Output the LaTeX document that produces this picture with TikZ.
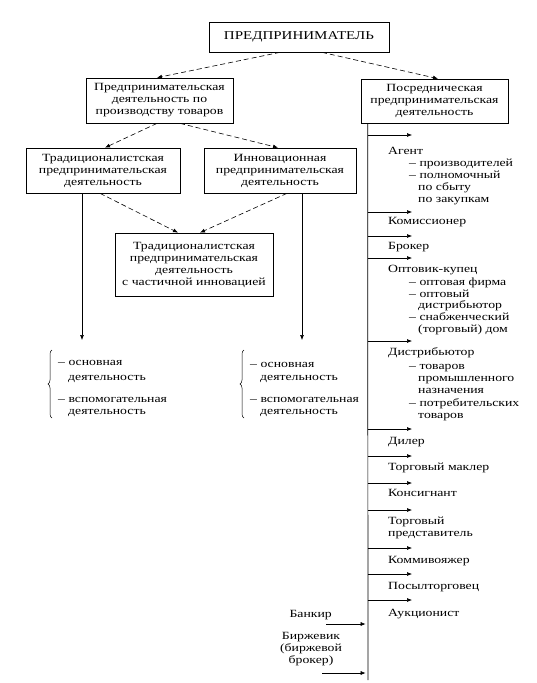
\documentclass[tikz,border=0pt]{standalone}
\usepackage{fontspec}
\setmainfont{Liberation Serif}[FakeStretch=1.25]
\usetikzlibrary{arrows.meta,decorations.pathreplacing}
\begin{document}
\begin{tikzpicture}[x=1pt,y=-1pt,
  every node/.style={font=\fontsize{11}{12}\selectfont, inner sep=0pt},
  box/.style={draw, line width=0.7pt, align=center},
  arr/.style={-{Latex[length=5pt,width=4pt]}, line width=0.6pt},
  darr/.style={arr, dash pattern=on 5pt off 3pt},
  lbl/.style={anchor=west, text height=7pt, text depth=2pt},
  brc/.style={decorate, decoration={brace, amplitude=4pt}, line width=0.5pt},
]
\useasboundingbox (0,0) rectangle (536,683);

% boxes
\node[box, minimum width=180pt, minimum height=30pt, font=\fontsize{12}{14}\selectfont] (top) at (299,37) {ПРЕДПРИНИМАТЕЛЬ};
\node[box, minimum width=147pt, minimum height=45pt] (lbox) at (159.5,100.5) {Предпринимательская\\деятельность по\\производству товаров};
\node[box, minimum width=147pt, minimum height=44pt] (rbox) at (434.5,101) {Посредническая\\предпринимательская\\деятельность};
\node[box, minimum width=154pt, minimum height=45pt] (trad) at (103,170.5) {Традиционалистская\\предпринимательская\\деятельность};
\node[box, minimum width=152pt, minimum height=45pt] (innov) at (280,170.5) {Инновационная\\предпринимательская\\деятельность};
\node[box, minimum width=158pt, minimum height=63pt] (comb) at (194,264.5) {Традиционалистская\\предпринимательская\\деятельность\\с частичной инновацией};

% diagonal connectors
\draw[darr] ([xshift=-19pt]top.south) -- ([xshift=-2.5pt]lbox.north);
\draw[darr] ([xshift=23pt]top.south) -- ([xshift=3.5pt]rbox.north);
\draw[darr] ([xshift=-2.5pt]lbox.south) -- ([xshift=2pt]trad.north);
\draw[darr] ([xshift=20.5pt]lbox.south) -- ([xshift=-2pt]innov.north);
\draw[darr] ([xshift=-3pt]trad.south) -- ([xshift=-16pt]comb.north);
\draw[darr] ([xshift=7pt]innov.south) -- ([xshift=6pt]comb.north);

% vertical arrows down to lists
\coordinate (la) at (82,340);
\coordinate (ra) at (302,340);
\draw[arr] (trad.south -| la) -- (la);
\draw[arr] (innov.south -| ra) -- (ra);

% left list
\draw[brc] (52,418) -- (52,350);
\node[lbl] (l1) at (58,363) {– основная};
\node[lbl] (l2) at (68,378) {деятельность};
\node[lbl] (l3) at (58,400) {– вспомогательная};
\node[lbl] (l4) at (68,412) {деятельность};
% right list
\draw[brc] (244,418) -- (244,350);
\node[lbl] (m1) at (250,365) {– основная};
\node[lbl] (m2) at (260,378) {деятельность};
\node[lbl] (m3) at (250,400) {– вспомогательная};
\node[lbl] (m4) at (260,412) {деятельность};

% trunk
\coordinate (trunk) at ([xshift=7pt]rbox.south west);
\coordinate (tend) at (368,680);
\draw[line width=0.7pt] (trunk) -- (tend);

\foreach \y [count=\i] in {135,212,236,258,341,429,456,483,510,548,574,600} {
  \coordinate (ra\i) at (412,\y);
  \draw[arr] (trunk |- ra\i) -- (ra\i);
}

% right-column labels
\foreach \x/\y/\t [count=\i] in {
  388/152/Агент, 409/164/– производителей, 409/176/– полномочный, 418/188/по сбыту, 418/200/по закупкам,
  388/222/Комиссионер, 388/247/Брокер,
  388/270/Оптовик-купец, 409/283/– оптовая фирма, 409/295/– оптовый, 418/306/дистрибьютор, 409/318/– снабженческий, 418/330/(торговый) дом,
  388/353/Дистрибьютор, 409/367/– товаров, 418/379/промышленного, 418/391/назначения, 409/404/– потребительских, 418/416/товаров,
  388/442/Дилер, 388/468/Торговый маклер, 388/494/Консигнант, 388/522/Торговый, 388/534/представитель,
  388/561/Коммивояжер, 388/587/Посылторговец, 388/614/Аукционист} {
  \node[lbl] (t\i) at (\x,\y) {\t};
}

% left feeders
\node[anchor=east, text height=7pt, text depth=2pt] (bank) at (332,615) {Банкир};
\node[align=center] (birzh) at (311,649) {Биржевик\\(биржевой\\брокер)};
\coordinate (bka) at (326,624);
\coordinate (bra) at (322,673);
\draw[arr, shorten >=2pt] (bka) -- (trunk |- bka);
\draw[arr, shorten >=2pt] (bra) -- (trunk |- bra);
\end{tikzpicture}
\end{document}
